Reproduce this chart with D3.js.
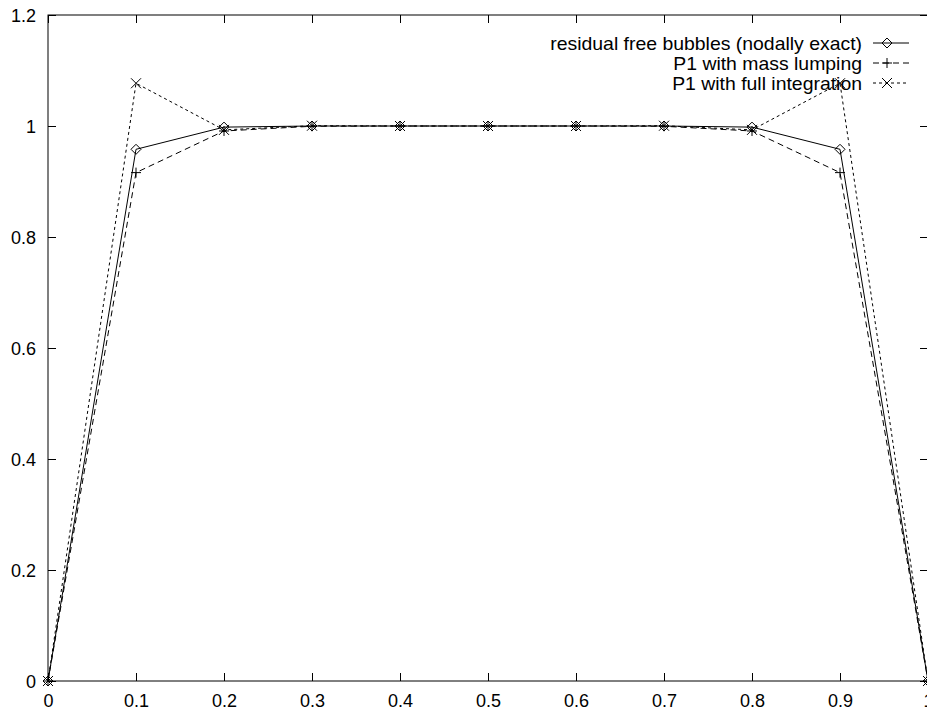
<!DOCTYPE html>
<html>
<head>
<meta charset="utf-8">
<script src="https://cdn.jsdelivr.net/npm/d3@7"></script>
<style>
  body { margin: 0; background: #fff; }
  svg { display: block; }
  text { font-family: "Liberation Sans", Arial, Helvetica, sans-serif; fill: #000; }
</style>
</head>
<body>
<div class="chart"></div>
<script>
const xs = [0, 0.1, 0.2, 0.3, 0.4, 0.5, 0.6, 0.7, 0.8, 0.9, 1.0];
const rfb = [0, 0.958, 0.998, 1.0, 1.0, 1.0, 1.0, 1.0, 0.998, 0.958, 0];
const massLumping = [0, 0.916, 0.991, 0.9995, 1.0, 1.0, 1.0, 0.9995, 0.991, 0.916, 0];
const fullIntegration = [0, 1.077, 0.993, 1.0005, 1.0, 1.0, 1.0, 1.0005, 0.993, 1.077, 0];
const xTicks = [0, 0.1, 0.2, 0.3, 0.4, 0.5, 0.6, 0.7, 0.8, 0.9, 1];
const yTicks = [0, 0.2, 0.4, 0.6, 0.8, 1, 1.2];
const seriesNames = ["residual free bubbles (nodally exact)", "P1 with mass lumping", "P1 with full integration"];

const total_width = 927;
const total_height = 708;
const margin = {top: 15, right: -1, bottom: 27, left: 48};
const chart_width = total_width - margin.left - margin.right;
const chart_height = total_height - margin.top - margin.bottom;
const tick = 8;

let svg = d3.select(".chart")
    .append("svg")
    .attr("width", total_width)
    .attr("height", total_height)
    .append("g")
    .attr("transform", "translate(" + margin.left + ", " + margin.top + ")");

const x = d3.scaleLinear().domain([0, 1]).range([0, chart_width]);
const y = d3.scaleLinear().domain([0, 1.2]).range([chart_height, 0]);

// ticks on all four sides, gnuplot style
const fmt = d => d === 0 ? "0" : d3.format("")(d);
svg.append("g")
    .attr("transform", "translate(0," + chart_height + ")")
    .call(d3.axisBottom(x).tickValues(xTicks).tickFormat(fmt).tickSize(-tick).tickPadding(13))
    .call(g => g.select(".domain").remove());
svg.append("g")
    .call(d3.axisTop(x).tickValues(xTicks).tickFormat("").tickSize(-tick))
    .call(g => g.select(".domain").remove());
svg.append("g")
    .call(d3.axisLeft(y).tickValues(yTicks).tickFormat(fmt).tickSize(-tick).tickPadding(12))
    .call(g => g.select(".domain").remove())
    .call(g => g.selectAll(".tick text").attr("dy", "0.38em"));
svg.append("g")
    .attr("transform", "translate(" + chart_width + ",0)")
    .call(d3.axisRight(y).tickValues(yTicks).tickFormat("").tickSize(-tick))
    .call(g => g.select(".domain").remove());

svg.selectAll(".tick line").attr("stroke", "#000");
svg.selectAll(".tick text").attr("font-size", "18px").attr("fill", "#000");

svg.append("rect")
    .attr("width", chart_width)
    .attr("height", chart_height)
    .attr("fill", "none")
    .attr("stroke", "#000");

const series = [
    {name: seriesNames[0], values: rfb, dash: null, marker: "diamond"},
    {name: seriesNames[1], values: massLumping, dash: "6,4", marker: "plus"},
    {name: seriesNames[2], values: fullIntegration, dash: "3,3", marker: "cross"}
];

const line = d3.line().x((d, i) => x(xs[i])).y(d => y(d));
const ms = 5;
function marker(g, type) {
    if (type === "diamond") {
        g.append("path").attr("d", `M0,${-ms}L${ms},0L0,${ms}L${-ms},0Z`)
            .attr("fill", "none").attr("stroke", "#000");
    } else if (type === "plus") {
        g.append("path").attr("d", `M${-ms},0H${ms}M0,${-ms}V${ms}`).attr("stroke", "#000");
    } else {
        g.append("path").attr("d", `M${-ms},${-ms}L${ms},${ms}M${-ms},${ms}L${ms},${-ms}`).attr("stroke", "#000");
    }
}

series.forEach(s => {
    svg.append("path")
        .datum(s.values)
        .attr("d", line)
        .attr("fill", "none")
        .attr("stroke", "#000")
        .attr("stroke-width", 1)
        .attr("stroke-dasharray", s.dash);
    svg.selectAll(null)
        .data(s.values)
        .enter()
        .append("g")
        .attr("transform", (d, i) => "translate(" + x(xs[i]) + "," + y(d) + ")")
        .each(function() { marker(d3.select(this), s.marker); });
});

// legend, top right
const legend = svg.append("g").attr("transform", "translate(" + (x(0.9) + 22) + ",28)");
series.forEach((s, i) => {
    const row = legend.append("g").attr("transform", "translate(0," + (i * 20) + ")");
    row.append("text")
        .attr("x", 0)
        .attr("y", 7)
        .attr("text-anchor", "end")
        .attr("font-size", "17.5px")
        .attr("transform", "scale(1.11,1)")
        .text(s.name);
    row.append("line")
        .attr("x1", 11).attr("x2", 47)
        .attr("stroke", "#000")
        .attr("stroke-dasharray", s.dash);
    const m = row.append("g").attr("transform", "translate(25,0)");
    marker(m, s.marker);
});
</script>
</body>
</html>
